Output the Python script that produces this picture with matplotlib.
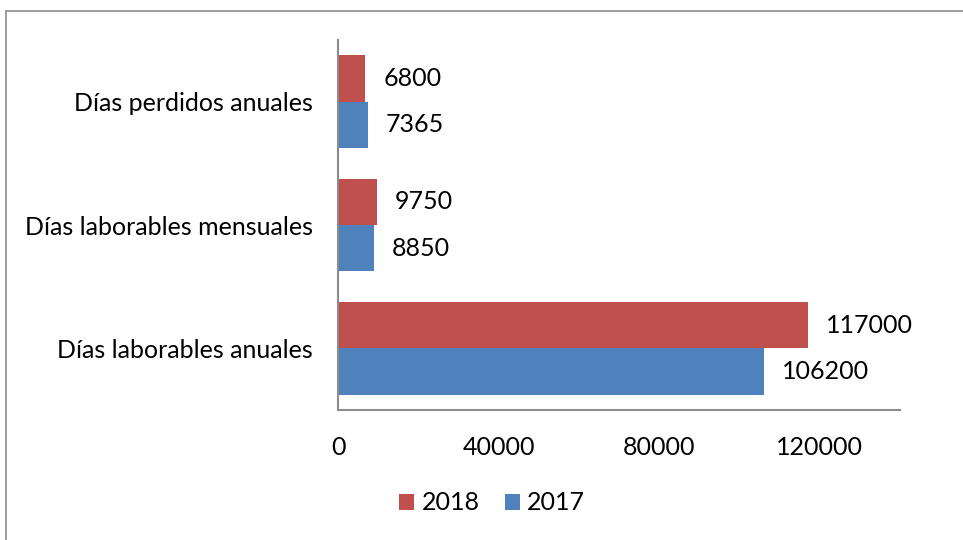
import matplotlib
matplotlib.use("Agg")
import matplotlib.pyplot as plt
from matplotlib.patches import Rectangle
import numpy as np

categories = ["Días laborables anuales", "Días laborables mensuales", "Días perdidos anuales"]
series_names = ["2018", "2017"]
values_2018 = [117000, 9750, 6800]
values_2017 = [106200, 8850, 7365]
x_ticks = [0, 40000, 80000, 120000]

RED = "#C0504D"
BLUE = "#4F81BD"
FONT = "Lato"
FS = 18

plt.rcParams["font.family"] = [FONT, "DejaVu Sans"]

fig = plt.figure(figsize=(9.63, 5.4), dpi=100)
W, H = 963, 540
# outer frame (right and bottom edges fall outside the image)
fig.patches.append(Rectangle((5.5 / W, -0.2), 1.2, 1.2 - 10.5 / H, transform=fig.transFigure,
                             fill=False, edgecolor="#8c8c8c", linewidth=1.2))

ax = fig.add_axes([338 / W, 1 - 410 / H, (900 - 338) / W, (410 - 40) / H])
y = np.arange(len(categories))
h = 0.375
ax.barh(y + h / 2, values_2018, height=h, color=RED, label=series_names[0])
ax.barh(y - h / 2, values_2017, height=h, color=BLUE, label=series_names[1])

for yi, v in zip(y, values_2018):
    ax.annotate(f"{v}", (v, yi + h / 2), xytext=(13, 0), textcoords="offset points",
                va="center", ha="left", fontsize=FS)
for yi, v in zip(y, values_2017):
    ax.annotate(f"{v}", (v, yi - h / 2), xytext=(13, 0), textcoords="offset points",
                va="center", ha="left", fontsize=FS)

ax.set_xlim(0, 140000)
ax.set_ylim(-0.5, 2.5)
ax.set_xticks(x_ticks)
ax.set_xticklabels([str(t) for t in x_ticks], fontsize=FS)
ax.set_yticks(y)
ax.set_yticklabels(categories, fontsize=FS)
ax.tick_params(axis="both", length=0)
ax.tick_params(axis="x", pad=19)
ax.tick_params(axis="y", pad=18)
for s in ["top", "right"]:
    ax.spines[s].set_visible(False)
for s in ["left", "bottom"]:
    ax.spines[s].set_color("#8c8c8c")
    ax.spines[s].set_linewidth(1.5)

ax.legend(loc="center", bbox_to_anchor=(492 / W, 1 - 503 / H), bbox_transform=fig.transFigure,
          ncol=2, frameon=False, fontsize=FS, handlelength=0.6, handleheight=0.6,
          handletextpad=0.3, columnspacing=1.0)

fig.savefig("out.png", dpi=100)
